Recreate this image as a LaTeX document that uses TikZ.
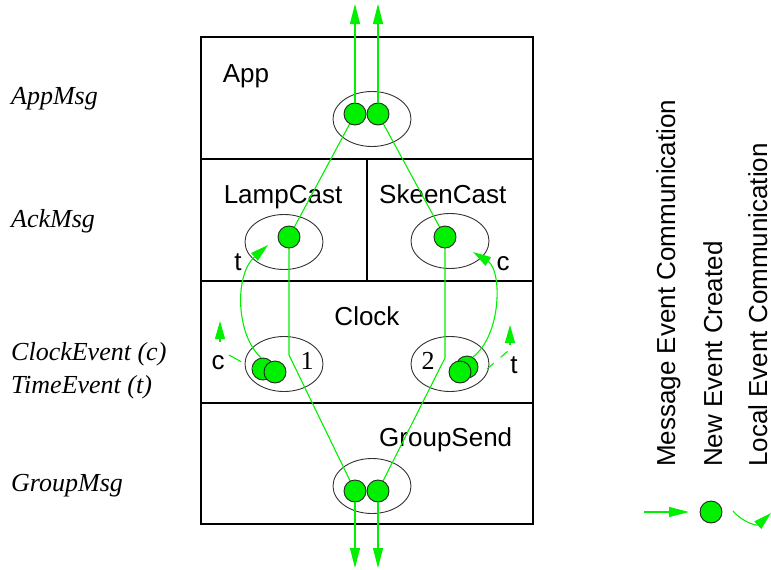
\documentclass[tikz,border=0pt]{standalone}
\usepackage{fontspec}
\setmainfont{Liberation Sans}
\newfontfamily\tms{Liberation Serif}
\usetikzlibrary{shapes.geometric,arrows.meta}
\definecolor{evgreen}{RGB}{0,240,0}
\tikzset{
  lbl/.style={font=\fontsize{26}{30}\selectfont, inner sep=0pt},
  lefttxt/.style={font=\tms\itshape\fontsize{26}{30}\selectfont, inner sep=0pt, anchor=base west},
  numtxt/.style={font=\tms\fontsize{26}{30}\selectfont, inner sep=0pt, anchor=base},
  compbox/.style={draw=black, line width=1.3pt},
  evell/.style={draw=black!80, line width=0.9pt, ellipse, minimum width=78pt, minimum height=55pt, inner sep=0pt},
  evdot/.style={draw=black!85, line width=0.9pt, fill=evgreen, circle, minimum size=22pt, inner sep=0pt},
  msg/.style={draw=evgreen, line width=1.1pt},
  tip/.style={-{Triangle[length=20pt,width=10pt]}},
  smalltip/.style={-{Triangle[length=18pt,width=10pt]}},
}
\begin{document}
\begin{tikzpicture}[x=1pt,y=-1pt]
\useasboundingbox (0,0) rectangle (771,570);
% component boxes
\draw[compbox] (201,37) rectangle (533,524);
\draw[compbox] (201,159) -- (533,159);
\draw[compbox] (201,281) -- (533,281);
\draw[compbox] (201,403) -- (533,403);
\draw[compbox] (367,159) -- (367,281);
% component names
\node[lbl, anchor=base] (tApp) at (246,82) {App};
\node[lbl, anchor=base] (tLamp) at (283,203) {LampCast};
\node[lbl, anchor=base west] (tSkeen) at (379,203) {SkeenCast};
\node[lbl, anchor=base] (tClock) at (367,325) {Clock};
\node[lbl, anchor=base west] (tGroup) at (379,446) {GroupSend};
% left labels
\node[lefttxt] (lApp) at (11,104) {AppMsg};
\node[lefttxt] (lAck) at (11,227) {AckMsg};
\node[lefttxt] (lClk) at (11,360) {ClockEvent (c)};
\node[lefttxt] (lTim) at (11,393) {TimeEvent (t)};
\node[lefttxt] (lGrp) at (11,491) {GroupMsg};
% ellipses
\node[evell] (eApp) at (372,119) {};
\node[evell] (eLamp) at (284,242) {};
\node[evell] (eSkeen) at (450,241) {};
\node[evell] (eCl) at (284,364) {};
\node[evell] (eCr) at (450,364) {};
\node[evell] (eGrp) at (372,486) {};
% numbers and small labels
\node[numtxt] (n1) at (307,369) {1};
\node[numtxt] (n2) at (428,369) {2};
\node[lbl, anchor=base] (lt1) at (238,270) {t};
\node[lbl, anchor=base] (lc1) at (503,270) {c};
\node[lbl, anchor=base] (lc2) at (218,369) {c};
\node[lbl, anchor=base] (lt2) at (514,373) {t};
% coordinates
\coordinate (a1up) at (355,4);
\coordinate (a2up) at (378,4);
\coordinate (g1dn) at (355,568);
\coordinate (g2dn) at (378,568);
\coordinate (bend1) at (289,355);
\coordinate (bend2) at (445,358);
\coordinate (ltip) at (268,245);
\coordinate (rtip) at (473,252);
% message lines (drawn below dots)
\draw[msg] (289,237) -- (bend1) -- (355,491);
\draw[msg] (445,237) -- (bend2) -- (378,491);
\draw[msg] (355,114) -- (289,237);
\draw[msg] (378,114) -- (445,237);
% dots
\node[evdot] (a1) at (355,114) {};
\node[evdot] (a2) at (378,114) {};
\node[evdot] (lcd) at (289,237) {};
\node[evdot] (scd) at (445,237) {};
\node[evdot] (cl1) at (263,369) {};
\node[evdot] (cl2) at (275,372) {};
\node[evdot] (cr1) at (467,367) {};
\node[evdot] (cr2) at (460,372) {};
\node[evdot] (g1) at (355,491) {};
\node[evdot] (g2) at (378,491) {};
% outgoing arrows
\draw[msg, tip] (a1) -- (a1up);
\draw[msg, tip] (a2) -- (a2up);
\draw[msg, tip] (g1) -- (g1dn);
\draw[msg, tip] (g2) -- (g2dn);
% local event arrows
\draw[msg, smalltip] (cl1.100) .. controls (236,335) and (234,275) .. (ltip);
\draw[msg, smalltip] (cr1.60) .. controls (502,335) and (502,270) .. (rtip);
% small dashed local events
\coordinate (ld1) at (256,370);
\coordinate (ld2) at (229,355);
\coordinate (rd1) at (487,369);
\coordinate (rd2) at (508,351);
\draw[msg, dash pattern=on 5pt off 12pt on 14pt off 20pt] (ld1) -- (ld2);
\draw[msg, dash pattern=on 9pt off 9pt] (rd1) -- (rd2);
\coordinate (lsa) at (220,342);
\coordinate (lsb) at (220,321);
\coordinate (rsa) at (510,345);
\coordinate (rsb) at (510,325);
\draw[msg, smalltip] (lsa) -- (lsb);
\draw[msg, smalltip] (rsa) -- (rsb);
% legend
\node[lbl, rotate=90, anchor=base west] (leg1) at (675,467) {Message Event Communication};
\node[lbl, rotate=90, anchor=base west] (leg2) at (722,467) {New Event Created};
\node[lbl, rotate=90, anchor=base west] (leg3) at (767,467) {Local Event Communication};
\coordinate (la) at (644,512);
\coordinate (lb) at (689,512);
\draw[msg, tip] (la) -- (lb);
\node[evdot] (legdot) at (711,512) {};
\coordinate (lcs) at (733,511);
\coordinate (lce) at (771,513);
\draw[msg, smalltip] (lcs) .. controls (742,522) and (757,526) .. (lce);
\end{tikzpicture}
\end{document}
